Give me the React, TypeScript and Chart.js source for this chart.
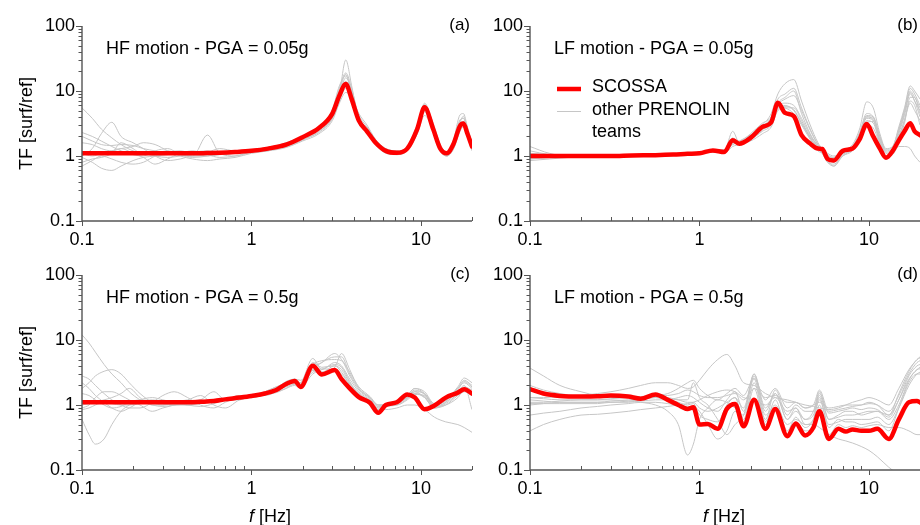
import React, { useEffect, useRef } from "react";
import { Chart, registerables } from "chart.js";

Chart.register(...registerables);

// ---------------- data ----------------
const X_TICKS = [0.1, 1, 10];
const Y_TICKS = [0.1, 1, 10, 100];
const X_MIN = 0.1;
const X_MAX = 20;
const Y_MIN = 0.1;
const Y_MAX = 100;

const LEGEND_RED = "SCOSSA";
const LEGEND_GREY = ["other PRENOLIN", "teams"];

// (a) HF motion - PGA = 0.05g
const FREQ_A = [0.1, 0.115, 0.13, 0.15, 0.17, 0.2, 0.23, 0.27, 0.32, 0.38, 0.45, 0.55, 0.65, 0.8, 1.0, 1.25, 1.6, 2.0, 2.5, 3.0, 3.3, 3.6, 3.9, 4.3, 4.8, 5.4, 6.2, 7.2, 8.3, 9.5, 10.5, 11.8, 13.0, 14.2, 15.5, 17.0, 17.8, 18.8, 20];
const SCOSSA_A = [1.1, 1.1, 1.1, 1.1, 1.1, 1.1, 1.1, 1.1, 1.1, 1.1, 1.1, 1.11, 1.12, 1.15, 1.2, 1.3, 1.5, 1.95, 2.7, 4.5, 8.5, 12.8, 7.5, 3.5, 2.4, 1.6, 1.2, 1.12, 1.3, 2.6, 5.6, 2.6, 1.3, 1.1, 1.5, 2.9, 3.15, 2.2, 1.4];
const OTHERS_A = [
  [5.5, 3.8, 2.6, 1.9, 1.5, 1.2, 1.1, 1.0, 0.95, 1.0, 1.05, 1.1, 1.1, 1.12, 1.18, 1.28, 1.5, 1.9, 2.7, 4.8, 10, 18, 9, 3.3, 2.3, 1.5, 1.15, 1.1, 1.3, 2.8, 6.2, 2.7, 1.3, 1.1, 1.6, 3.5, 3.8, 2.5, 1.5],
  [2.3, 2.0, 1.7, 1.4, 1.2, 1.05, 1.0, 1.2, 1.3, 1.05, 0.95, 1.0, 1.1, 1.15, 1.2, 1.3, 1.45, 1.85, 2.5, 4.0, 9, 30, 12, 3.5, 2.8, 1.7, 1.25, 1.15, 1.3, 2.4, 5.2, 2.9, 1.4, 1.15, 1.7, 4.3, 4.5, 2.8, 1.6],
  [0.7, 0.85, 1.0, 0.9, 0.8, 0.75, 0.8, 1.0, 1.15, 1.2, 1.1, 1.15, 1.3, 1.2, 1.25, 1.35, 1.6, 2.0, 2.6, 4.5, 8.5, 16, 10, 4.0, 2.6, 1.6, 1.2, 1.1, 1.35, 2.5, 5.0, 2.5, 1.3, 1.05, 1.4, 3.0, 3.4, 2.4, 1.5],
  [0.95, 0.8, 0.65, 0.6, 0.7, 0.85, 0.95, 1.0, 1.05, 1.1, 1.0, 2.1, 1.1, 1.0, 1.15, 1.25, 1.4, 1.8, 2.3, 3.8, 7, 11, 8.5, 4.2, 2.8, 1.7, 1.3, 1.2, 1.35, 2.6, 5.9, 2.9, 1.35, 1.05, 1.3, 2.5, 3.0, 2.2, 1.3],
  [1.6, 1.5, 1.3, 1.2, 1.3, 1.4, 1.6, 1.5, 1.2, 1.0, 0.9, 0.85, 0.9, 0.95, 1.1, 1.2, 1.45, 1.9, 2.7, 5.0, 11, 19, 11, 4.0, 2.4, 1.5, 1.1, 1.05, 1.25, 2.3, 5.4, 2.4, 1.2, 1.0, 1.45, 3.2, 3.4, 2.3, 1.4],
  [1.0, 1.3, 2.2, 3.3, 2.0, 1.6, 1.3, 1.0, 0.85, 0.9, 1.0, 1.0, 1.05, 1.1, 1.25, 1.3, 1.5, 1.95, 2.6, 4.4, 9.5, 14, 9.5, 3.8, 2.6, 1.6, 1.2, 1.1, 1.3, 2.7, 6.5, 3.0, 1.45, 1.15, 1.55, 3.6, 3.8, 2.6, 1.6],
  [1.1, 1.0, 1.1, 1.2, 1.3, 1.1, 0.95, 0.75, 0.9, 1.1, 1.2, 1.05, 0.95, 1.0, 1.15, 1.25, 1.4, 1.75, 2.4, 3.8, 8, 13, 7.5, 3.3, 2.3, 1.5, 1.15, 1.05, 1.2, 2.2, 4.8, 2.3, 1.2, 1.0, 1.35, 2.8, 3.0, 2.1, 1.3],
  [2.0, 1.7, 1.5, 1.45, 1.5, 1.45, 1.3, 1.2, 1.1, 1.05, 1.0, 1.05, 1.15, 1.2, 1.25, 1.35, 1.55, 2.0, 2.8, 5.2, 12, 17, 10, 3.6, 2.5, 1.55, 1.2, 1.15, 1.4, 3.0, 6.0, 3.2, 1.5, 1.15, 1.5, 3.3, 4.1, 2.6, 1.4],
  [0.8, 0.9, 0.95, 1.1, 1.6, 1.3, 1.05, 1.1, 1.2, 1.1, 1.15, 1.2, 1.1, 1.1, 1.15, 1.2, 1.35, 1.7, 2.2, 3.5, 6.5, 9.5, 8, 4.5, 3.0, 1.8, 1.3, 1.2, 1.3, 2.2, 4.2, 2.5, 1.3, 1.0, 1.25, 2.4, 2.8, 2.0, 1.2],
];

// (b) LF motion - PGA = 0.05g
const FREQ_B = [0.1, 0.13, 0.17, 0.22, 0.3, 0.4, 0.55, 0.7, 0.85, 1.0, 1.2, 1.4, 1.57, 1.72, 2.0, 2.35, 2.65, 2.9, 3.2, 3.6, 4.0, 4.5, 5.0, 5.3, 5.7, 6.2, 7.0, 8.0, 8.8, 9.7, 10.6, 11.6, 12.6, 13.8, 15.0, 16.2, 17.5, 18.6, 20];
const SCOSSA_B = [1.0, 1.0, 1.0, 1.0, 1.0, 1.02, 1.03, 1.05, 1.08, 1.1, 1.22, 1.15, 1.75, 1.55, 1.9, 2.8, 3.3, 6.6, 4.6, 4.1, 2.1, 1.55, 1.3, 1.28, 0.9, 0.85, 1.2, 1.3, 1.8, 3.1, 2.0, 1.3, 0.94, 1.2, 1.74, 2.4, 3.2, 2.4, 2.1];
const OTHERS_B = [
  [1.4, 1.1, 1.0, 1.0, 1.02, 1.0, 1.0, 1.05, 1.1, 1.15, 1.2, 1.2, 2.4, 1.6, 2.0, 3.0, 4.5, 9, 13, 15, 7, 3, 1.6, 1.3, 1.1, 1.0, 1.1, 1.4, 2.3, 4.5, 4.0, 2.0, 1.2, 1.3, 2.5, 5, 11, 9, 6],
  [0.9, 0.95, 0.98, 1.0, 1.0, 1.0, 1.02, 1.05, 1.05, 1.1, 1.25, 1.2, 1.5, 1.7, 2.1, 2.6, 3.2, 5.5, 6, 5, 3.2, 2, 1.4, 1.2, 0.95, 0.9, 1.15, 1.35, 2.0, 3.8, 3.5, 1.8, 1.1, 1.2, 2.0, 3.5, 6.5, 5, 3.5],
  [1.1, 1.05, 1.0, 1.0, 1.0, 1.0, 1.0, 1.03, 1.06, 1.1, 1.2, 1.15, 1.6, 1.5, 1.8, 2.5, 3.5, 6.5, 8, 10, 4.5, 2.2, 1.4, 1.2, 0.9, 0.8, 1.1, 1.3, 1.9, 3.5, 3.2, 1.6, 1.0, 1.1, 1.8, 3.2, 8, 8, 4.5],
  [0.85, 0.9, 0.95, 1.0, 1.0, 1.0, 1.0, 1.02, 1.05, 1.08, 1.15, 1.1, 1.4, 1.5, 1.7, 2.2, 2.8, 5, 5.5, 5.5, 3.5, 1.9, 1.3, 1.1, 0.8, 0.75, 1.0, 1.2, 1.7, 3.0, 2.7, 1.5, 0.95, 1.05, 1.4, 1.4, 1.3, 1.0, 0.8],
  [1.0, 1.0, 1.0, 1.0, 1.0, 1.02, 1.05, 1.05, 1.1, 1.1, 1.25, 1.25, 1.9, 1.6, 2.1, 2.9, 3.8, 6.2, 7.5, 8.5, 5, 2.5, 1.5, 1.3, 1.0, 0.95, 1.2, 1.5, 2.6, 6.8, 5.5, 2.2, 1.3, 1.4, 2.8, 5.5, 12, 10, 7.5],
  [0.95, 1.0, 1.0, 1.0, 1.0, 1.0, 1.0, 1.05, 1.05, 1.1, 1.2, 1.2, 1.6, 1.6, 2.0, 2.7, 3.5, 6.0, 5.5, 4.5, 3.0, 1.8, 1.2, 1.1, 0.85, 0.7, 1.0, 1.3, 2.1, 4.0, 3.6, 1.7, 1.0, 1.2, 2.2, 4.2, 9, 7, 4],
  [1.2, 1.05, 1.0, 1.0, 1.0, 1.0, 1.0, 1.03, 1.07, 1.1, 1.2, 1.15, 1.7, 1.55, 1.9, 2.6, 3.1, 5.8, 6.5, 6.0, 3.8, 2.1, 1.45, 1.3, 1.05, 0.95, 1.15, 1.35, 2.0, 4.0, 3.8, 1.9, 1.15, 1.3, 2.4, 4.5, 10, 8, 5.5],
  [1.0, 1.0, 1.0, 1.0, 1.0, 1.0, 1.03, 1.05, 1.08, 1.12, 1.22, 1.2, 1.8, 1.7, 2.2, 3.2, 4.0, 7.5, 9, 11, 5.5, 2.6, 1.5, 1.25, 0.95, 0.9, 1.2, 1.4, 2.2, 4.2, 4.0, 2.0, 1.25, 1.4, 2.6, 5.0, 9.5, 7, 5],
  [0.9, 0.95, 1.0, 1.0, 1.0, 1.0, 1.0, 1.02, 1.05, 1.1, 1.15, 1.15, 1.5, 1.6, 1.8, 2.4, 3.0, 5.2, 5.8, 5.2, 3.2, 1.9, 1.35, 1.15, 0.8, 0.7, 1.05, 1.25, 1.9, 3.3, 3.4, 1.6, 1.0, 1.1, 1.9, 3.6, 7, 6, 3],
];

// (c) HF motion - PGA = 0.5g
const FREQ_C = [0.1, 0.11, 0.12, 0.135, 0.15, 0.17, 0.19, 0.22, 0.26, 0.3, 0.35, 0.42, 0.5, 0.6, 0.7, 0.85, 1.0, 1.2, 1.4, 1.6, 1.8, 1.95, 2.3, 2.6, 3.1, 3.4, 3.8, 4.3, 5.0, 5.6, 6.2, 7.2, 8.3, 9.2, 10.5, 12.0, 14.0, 16.5, 18.0, 20];
const SCOSSA_C = [1.1, 1.1, 1.1, 1.1, 1.1, 1.1, 1.1, 1.1, 1.1, 1.1, 1.1, 1.1, 1.12, 1.15, 1.22, 1.3, 1.38, 1.5, 1.7, 2.1, 2.35, 1.9, 4.0, 2.95, 3.45, 2.5, 1.8, 1.32, 1.08, 0.76, 1.0, 1.1, 1.45, 1.3, 0.86, 0.98, 1.3, 1.55, 1.75, 1.5];
const OTHERS_C = [
  [12, 9, 6.5, 4.2, 3.0, 2.2, 1.6, 1.2, 1.0, 0.95, 1.0, 1.1, 1.2, 1.1, 1.2, 1.4, 1.4, 1.5, 1.8, 2.2, 2.3, 2.0, 3.5, 4.5, 5.5, 5.5, 3.0, 1.8, 1.3, 1.0, 1.0, 1.1, 1.4, 1.8, 1.5, 1.0, 1.2, 1.8, 2.2, 1.8],
  [0.6, 0.35, 0.25, 0.3, 0.5, 0.8, 1.0, 1.2, 1.3, 1.2, 1.1, 1.0, 0.95, 1.05, 1.2, 1.3, 1.4, 1.4, 1.6, 2.0, 2.2, 1.9, 3.5, 3.2, 4.0, 3.5, 2.2, 1.5, 1.1, 0.9, 0.95, 1.05, 1.3, 1.5, 1.3, 0.9, 1.0, 1.4, 1.6, 1.4],
  [2.8, 2.5, 2.0, 1.5, 1.2, 1.0, 0.9, 0.9, 1.1, 1.4, 1.6, 1.3, 1.0, 0.9, 1.1, 1.3, 1.3, 1.45, 1.7, 1.9, 2.1, 2.2, 5.2, 3.5, 4.5, 4.0, 2.5, 1.6, 1.2, 0.95, 1.0, 1.1, 1.35, 1.6, 1.5, 1.0, 1.15, 1.8, 2.4, 2.0],
  [1.8, 2.2, 2.8, 3.3, 3.5, 3.0, 2.2, 1.5, 1.1, 1.0, 1.05, 1.0, 1.1, 1.2, 1.2, 1.35, 1.3, 1.45, 1.6, 1.8, 2.0, 1.8, 3.8, 4.5, 6.2, 5.0, 3.2, 1.9, 1.35, 1.0, 1.0, 1.0, 1.2, 1.45, 1.4, 0.95, 1.0, 1.3, 1.7, 1.6],
  [0.85, 0.9, 1.0, 1.1, 1.05, 1.0, 1.0, 1.05, 1.1, 1.1, 1.15, 1.2, 1.4, 1.0, 0.9, 1.2, 1.35, 1.45, 1.55, 1.8, 2.1, 1.9, 3.0, 3.5, 4.2, 3.8, 2.3, 1.4, 1.0, 0.85, 0.85, 0.9, 1.0, 1.0, 0.85, 0.65, 0.55, 0.5, 0.45, 0.38],
  [0.9, 1.0, 1.3, 1.6, 1.6, 1.4, 1.2, 1.0, 0.8, 0.9, 1.0, 1.1, 1.2, 1.6, 1.2, 1.2, 1.4, 1.6, 1.9, 2.1, 2.4, 2.2, 3.2, 3.6, 3.4, 3.0, 2.0, 1.4, 1.1, 0.85, 0.95, 1.0, 1.25, 1.6, 1.3, 0.9, 1.1, 1.7, 2.3, 1.9],
  [1.0, 1.05, 1.1, 1.2, 1.3, 1.5, 1.8, 1.3, 1.0, 1.0, 1.05, 1.1, 1.15, 1.2, 1.25, 1.35, 1.4, 1.5, 1.8, 2.3, 2.5, 2.1, 4.5, 3.8, 4.0, 3.2, 2.1, 1.5, 1.15, 0.9, 0.95, 1.05, 1.3, 1.7, 1.45, 0.95, 1.1, 1.6, 2.0, 0.85],
  [2.2, 1.8, 1.4, 1.1, 0.9, 0.8, 0.9, 1.1, 1.2, 1.1, 1.0, 1.0, 1.05, 1.15, 1.2, 1.3, 1.35, 1.6, 1.9, 2.2, 2.5, 2.4, 4.2, 4.8, 5.0, 4.8, 2.8, 1.7, 1.25, 0.95, 1.0, 1.1, 1.4, 1.8, 1.6, 1.05, 1.2, 1.9, 2.6, 2.2],
  [1.5, 1.4, 1.2, 1.0, 0.9, 0.95, 1.1, 1.2, 1.15, 1.05, 1.0, 1.05, 1.1, 1.15, 1.2, 1.3, 1.35, 1.5, 1.7, 2.0, 2.2, 2.0, 3.4, 3.2, 3.8, 6.2, 3.5, 1.8, 1.3, 1.0, 1.0, 1.05, 1.3, 1.5, 1.35, 0.9, 1.05, 1.5, 1.9, 1.7],
];

// (d) LF motion - PGA = 0.5g
const FREQ_D = [0.1, 0.12, 0.15, 0.2, 0.25, 0.3, 0.38, 0.45, 0.55, 0.65, 0.75, 0.85, 0.92, 1.0, 1.12, 1.28, 1.45, 1.62, 1.82, 2.1, 2.45, 2.8, 3.3, 3.7, 4.2, 4.7, 5.1, 5.8, 6.6, 7.3, 8.0, 9.0, 10.0, 11.2, 13.1, 15.0, 17.2, 19.2, 20];
const SCOSSA_D = [1.75, 1.5, 1.38, 1.35, 1.36, 1.4, 1.35, 1.25, 1.45, 1.2, 1.0, 0.87, 0.92, 0.5, 0.51, 0.43, 0.87, 1.04, 0.47, 1.2, 0.43, 0.87, 0.33, 0.52, 0.34, 0.45, 0.8, 0.3, 0.43, 0.39, 0.42, 0.4, 0.4, 0.43, 0.3, 0.6, 1.1, 1.15, 1.1];
const OTHERS_D = [
  [1.3, 1.3, 1.35, 1.4, 1.5, 1.6, 1.8, 2.0, 2.2, 2.2, 2.0, 1.8, 1.9, 2.4, 3.5, 5.0, 6.0, 4.0, 2.2, 2.0, 1.5, 1.3, 1.2, 1.1, 1.0, 0.95, 0.9, 0.85, 0.9, 1.0, 1.1, 1.2, 1.3, 1.2, 1.0, 1.8, 3.5, 5.0, 5.5],
  [3.7, 2.8, 2.0, 1.6, 1.4, 1.35, 1.3, 1.3, 1.35, 1.3, 1.2, 1.1, 1.1, 0.9, 0.8, 0.9, 1.1, 1.3, 0.9, 3.0, 0.9, 1.5, 0.6, 0.9, 0.6, 0.8, 1.6, 0.6, 0.7, 0.8, 0.8, 0.7, 0.75, 0.8, 0.7, 1.2, 2.5, 3.5, 3.8],
  [0.4, 0.5, 0.6, 0.7, 0.72, 0.75, 0.8, 0.85, 0.9, 0.95, 1.0, 1.05, 1.1, 1.2, 1.4, 1.6, 1.7, 1.6, 1.3, 1.2, 1.0, 1.3, 0.8, 0.9, 0.5, 0.5, 0.45, 0.35, 0.3, 0.28, 0.26, 0.23, 0.2, 0.16, 0.11, 0.085, 0.07, 0.06, 0.06],
  [1.1, 1.1, 1.15, 1.2, 1.2, 1.2, 1.15, 1.1, 1.0, 0.8, 0.5, 0.17, 0.25, 0.6, 0.9, 1.2, 1.1, 0.9, 0.7, 2.8, 0.7, 1.0, 0.5, 0.6, 0.5, 0.6, 1.2, 0.5, 0.55, 0.6, 0.6, 0.6, 0.6, 0.65, 0.5, 0.9, 2.0, 3.0, 3.2],
  [1.0, 1.05, 1.1, 1.1, 1.1, 1.1, 1.15, 1.2, 1.3, 1.25, 1.2, 1.2, 2.2, 1.3, 1.0, 0.6, 0.35, 0.5, 0.7, 2.5, 0.6, 1.7, 0.7, 1.0, 0.8, 0.8, 1.5, 0.75, 0.8, 0.85, 0.9, 0.85, 0.9, 0.85, 0.65, 1.2, 2.8, 4.0, 4.2],
  [1.2, 1.15, 1.1, 1.1, 1.1, 1.15, 1.2, 1.25, 1.3, 1.2, 1.1, 1.0, 1.05, 0.7, 0.6, 0.55, 1.0, 1.3, 0.6, 2.2, 0.55, 1.2, 0.4, 0.65, 0.45, 0.6, 1.3, 0.45, 0.6, 0.55, 0.55, 0.5, 0.52, 0.55, 0.4, 0.9, 2.2, 3.0, 3.0],
  [2.0, 1.7, 1.5, 1.35, 1.3, 1.3, 1.3, 1.3, 1.35, 1.4, 1.5, 1.7, 1.6, 1.4, 1.3, 1.3, 1.4, 1.5, 1.2, 1.8, 1.3, 1.4, 1.1, 1.1, 0.9, 1.0, 1.1, 0.9, 0.95, 1.0, 1.0, 1.0, 1.05, 1.0, 0.8, 1.4, 3.0, 4.5, 4.8],
  [0.7, 0.75, 0.8, 0.9, 0.95, 1.0, 1.05, 1.1, 1.1, 1.05, 1.0, 0.95, 0.95, 0.8, 0.5, 0.3, 0.4, 0.8, 0.55, 1.8, 0.5, 0.9, 0.35, 0.55, 0.4, 0.45, 1.0, 0.35, 0.5, 0.45, 0.48, 0.45, 0.48, 0.5, 0.45, 0.45, 0.4, 0.35, 0.35],
  [1.05, 1.05, 1.05, 1.05, 1.05, 1.1, 1.1, 1.15, 1.2, 1.2, 1.3, 1.4, 1.3, 1.1, 0.9, 0.8, 1.2, 1.6, 0.8, 3.0, 0.8, 1.5, 0.6, 0.8, 0.6, 0.7, 1.4, 0.6, 0.65, 0.7, 0.7, 0.75, 0.8, 0.8, 0.6, 1.0, 2.4, 3.5, 3.6],
  [1.3, 1.25, 1.2, 1.2, 1.2, 1.25, 1.3, 1.35, 1.4, 1.5, 1.8, 2.2, 2.4, 1.8, 1.4, 1.2, 1.5, 1.8, 1.4, 2.6, 1.2, 1.8, 0.9, 1.1, 0.9, 1.0, 1.7, 0.8, 0.85, 0.9, 0.95, 1.0, 1.1, 1.0, 0.7, 1.5, 3.3, 5.0, 5.3],
];

// ---------------- styles ----------------
const FONT = '"Liberation Sans", Arial, Helvetica, sans-serif';
const RED = "#ff0000";
const GREY = "#c6c6c6";
const AXIS = "#555555";
const MANTISSAS = [1, 2, 3, 4, 5, 6, 7, 8, 9];

type PanelCfg = {
  freq: number[];
  red: number[];
  others: number[][];
  title: string;
  tag: string;
  left: number;
  top: number;
  w: number;
  h: number;
  yAxisW: number;
  xAxisH: number;
  padTop: number;
  padRight: number;
  yTitle: boolean;
  xTitleCenter: number | null;
  legend: boolean;
};

const PANELS: PanelCfg[] = [
  { freq: FREQ_A, red: SCOSSA_A, others: OTHERS_A, title: "HF motion - PGA = 0.05g", tag: "(a)", left: 0, top: 0, w: 480, h: 262, yAxisW: 82, xAxisH: 41, padTop: 26, padRight: 8, yTitle: true, xTitleCenter: null, legend: false },
  { freq: FREQ_B, red: SCOSSA_B, others: OTHERS_B, title: "LF motion - PGA = 0.05g", tag: "(b)", left: 460, top: 0, w: 460, h: 262, yAxisW: 70, xAxisH: 41, padTop: 26, padRight: 0, yTitle: false, xTitleCenter: null, legend: true },
  { freq: FREQ_C, red: SCOSSA_C, others: OTHERS_C, title: "HF motion - PGA = 0.5g", tag: "(c)", left: 0, top: 255, w: 480, h: 270, yAxisW: 82, xAxisH: 55, padTop: 20, padRight: 8, yTitle: true, xTitleCenter: 270, legend: false },
  { freq: FREQ_D, red: SCOSSA_D, others: OTHERS_D, title: "LF motion - PGA = 0.5g", tag: "(d)", left: 460, top: 255, w: 460, h: 270, yAxisW: 70, xAxisH: 55, padTop: 20, padRight: 0, yTitle: false, xTitleCenter: 264, legend: false },
];

function line(ctx: CanvasRenderingContext2D, x1: number, y1: number, x2: number, y2: number) {
  ctx.beginPath();
  ctx.moveTo(x1, y1);
  ctx.lineTo(x2, y2);
  ctx.stroke();
}

function makeOverlay(p: PanelCfg) {
  return {
    id: "overlay",
    afterDraw(chart: any) {
      const ctx: CanvasRenderingContext2D = chart.ctx;
      const a = chart.chartArea;
      const xs = chart.scales.x;
      const ys = chart.scales.y;
      ctx.save();
      ctx.strokeStyle = AXIS;
      // axis lines
      ctx.lineWidth = 1.4;
      ctx.beginPath();
      ctx.moveTo(a.left, a.top);
      ctx.lineTo(a.left, a.bottom);
      ctx.lineTo(a.right, a.bottom);
      ctx.stroke();
      ctx.lineWidth = 1;
      // y ticks (outward, left)
      for (const d of [0.1, 1, 10, 100]) {
        for (const m of MANTISSAS) {
          const v = d * m;
          if (v > Y_MAX * 1.0001) continue;
          const py = Math.round(ys.getPixelForValue(v)) + 0.5;
          const len = m === 1 ? 6 : 3.5;
          line(ctx, a.left - len, py, a.left, py);
        }
      }
      // x ticks: minor inward (up), major outward (down)
      for (const d of [0.1, 1, 10]) {
        for (const m of MANTISSAS) {
          const v = d * m;
          if (v > X_MAX * 1.0001) continue;
          const px = Math.round(xs.getPixelForValue(v)) + 0.5;
          if (m === 1) line(ctx, px, a.bottom, px, a.bottom + 5);
          else line(ctx, px, a.bottom - 4, px, a.bottom);
        }
      }
      // texts
      ctx.fillStyle = "#000";
      ctx.textBaseline = "alphabetic";
      ctx.font = `18px ${FONT}`;
      ctx.textAlign = "left";
      ctx.fillText(p.title, a.left + 24, a.top + 28);
      ctx.font = `17px ${FONT}`;
      ctx.textAlign = "right";
      ctx.fillText(p.tag, a.right - 2, a.top + 3.5);

      if (p.legend) {
        ctx.strokeStyle = RED;
        ctx.lineWidth = 4.5;
        line(ctx, a.left + 27, a.top + 63, a.left + 51, a.top + 63);
        ctx.strokeStyle = GREY;
        ctx.lineWidth = 1;
        line(ctx, a.left + 27, a.top + 85.5, a.left + 51, a.top + 85.5);
        ctx.font = `18px ${FONT}`;
        ctx.textAlign = "left";
        ctx.fillText(LEGEND_RED, a.left + 62, a.top + 66);
        ctx.fillText(LEGEND_GREY[0], a.left + 62, a.top + 89);
        ctx.fillText(LEGEND_GREY[1], a.left + 62, a.top + 111);
      }

      if (p.yTitle) {
        ctx.save();
        ctx.translate(27, (a.top + a.bottom) / 2);
        ctx.rotate(-Math.PI / 2);
        ctx.font = `18px ${FONT}`;
        ctx.textAlign = "center";
        ctx.textBaseline = "middle";
        ctx.fillText("TF [surf/ref]", 0, 0);
        ctx.restore();
      }

      if (p.xTitleCenter !== null) {
        const italic = `italic 18px ${FONT}`;
        const normal = `18px ${FONT}`;
        ctx.font = italic;
        const w1 = ctx.measureText("f").width;
        ctx.font = normal;
        const w2 = ctx.measureText(" [Hz]").width;
        const x0 = p.xTitleCenter - (w1 + w2) / 2;
        const yb = chart.height - 3;
        ctx.textAlign = "left";
        ctx.font = italic;
        ctx.fillText("f", x0, yb);
        ctx.font = normal;
        ctx.fillText(" [Hz]", x0 + w1, yb);
      }
      ctx.restore();
    },
  };
}

function Panel({ p }: { p: PanelCfg }) {
  const ref = useRef<HTMLCanvasElement>(null);
  useEffect(() => {
    if (!ref.current) return;
    const toPts = (vals: number[]) => p.freq.map((f, i) => ({ x: f, y: vals[i] }));
    const datasets: any[] = [
      {
        label: LEGEND_RED,
        data: toPts(p.red),
        borderColor: RED,
        borderWidth: 4.5,
        pointRadius: 0,
        cubicInterpolationMode: "monotone",
        borderCapStyle: "round",
        borderJoinStyle: "round",
        fill: false,
      },
      ...p.others.map((vals, k) => ({
        label: `team ${k + 1}`,
        data: toPts(vals),
        borderColor: GREY,
        borderWidth: 1,
        pointRadius: 0,
        cubicInterpolationMode: "monotone",
        fill: false,
      })),
    ];
    const tickFont = { family: FONT, size: 18 };
    const chart = new Chart(ref.current, {
      type: "line",
      data: { datasets },
      options: {
        animation: false,
        responsive: false,
        maintainAspectRatio: false,
        events: [],
        layout: { padding: { left: 0, top: p.padTop, right: p.padRight, bottom: 0 } },
        plugins: { legend: { display: false }, tooltip: { enabled: false }, title: { display: false } },
        scales: {
          x: {
            type: "logarithmic",
            min: X_MIN,
            max: X_MAX,
            grid: { display: false, drawTicks: false },
            border: { display: false },
            afterBuildTicks: (s: any) => {
              s.ticks = X_TICKS.map((v) => ({ value: v }));
            },
            afterFit: (s: any) => {
              s.height = p.xAxisH;
            },
            ticks: {
              font: tickFont,
              color: "#000",
              padding: 8,
              maxRotation: 0,
              autoSkip: false,
              callback: (v: any) => String(v),
            },
          },
          y: {
            type: "logarithmic",
            min: Y_MIN,
            max: Y_MAX,
            grid: { display: false, drawTicks: false },
            border: { display: false },
            afterBuildTicks: (s: any) => {
              s.ticks = Y_TICKS.map((v) => ({ value: v }));
            },
            afterFit: (s: any) => {
              s.width = p.yAxisW;
            },
            ticks: {
              font: tickFont,
              color: "#000",
              padding: 7,
              autoSkip: false,
              callback: (v: any) => String(v),
            },
          },
        },
      } as any,
      plugins: [makeOverlay(p)],
    });
    return () => chart.destroy();
  }, [p]);
  return (
    <canvas
      ref={ref}
      width={p.w}
      height={p.h}
      style={{ position: "absolute", left: p.left, top: p.top, width: p.w, height: p.h }}
    />
  );
}

export default function App() {
  return (
    <div style={{ position: "absolute", left: 0, top: 0, width: 920, height: 525, background: "#fff", overflow: "hidden" }}>
      {PANELS.map((p) => (
        <Panel key={p.tag} p={p} />
      ))}
    </div>
  );
}
